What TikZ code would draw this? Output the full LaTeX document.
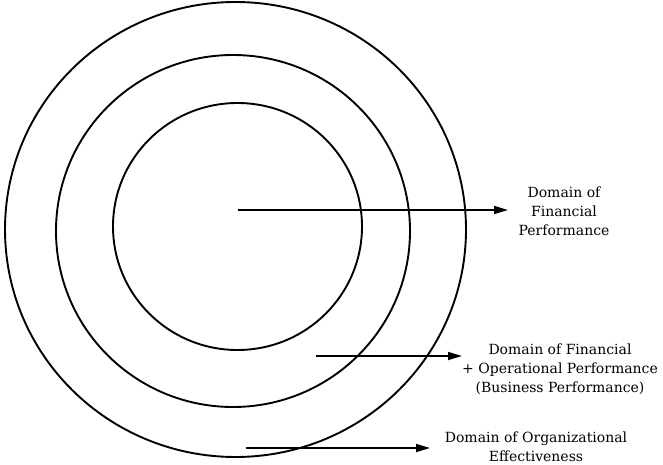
\documentclass[tikz,border=0pt]{standalone}
\usepackage{fontspec}
\setmainfont{DejaVu Serif}
\usetikzlibrary{arrows.meta,shapes.geometric}

\begin{document}
\begin{tikzpicture}[
  x=1pt, y=-1pt,
  ring/.style={draw, ellipse, line width=1.9pt, inner sep=0pt, outer sep=0pt},
  domainlabel/.style={align=center, font=\fontsize{14}{19}\selectfont, inner sep=0pt},
  arrow/.style={-{Triangle[length=14pt, width=8pt]}, line width=1.7pt}
]
\useasboundingbox (0,0) rectangle (663,465);
% nested domains
\node[ring, minimum width=461pt, minimum height=455pt] (outerring) at (235.5,229.5) {};
\node[ring, minimum width=354pt, minimum height=352pt] (midring) at (233,231) {};
\node[ring, minimum width=249pt, minimum height=247pt] (innerring) at (237.5,226.5) {};
% labels
\node[domainlabel] (finlabel) at (564,211) {Domain of\\Financial\\Performance};
\node[domainlabel] (buslabel) at (560,369) {Domain of Financial\\+ Operational Performance\\(Business Performance)};
\node[domainlabel] (orglabel) at (536,446.5) {Domain of Organizational\\Effectiveness};
% pointers
\coordinate (finstart) at (238,210);
\coordinate (fintip) at (508,210);
\coordinate (busstart) at (316,356);
\coordinate (bustip) at (462,356);
\coordinate (orgstart) at (246,448);
\coordinate (orgtip) at (430,448);
\draw[arrow] (finstart) -- (fintip);
\draw[arrow] (busstart) -- (bustip);
\draw[arrow] (orgstart) -- (orgtip);
\end{tikzpicture}
\end{document}
